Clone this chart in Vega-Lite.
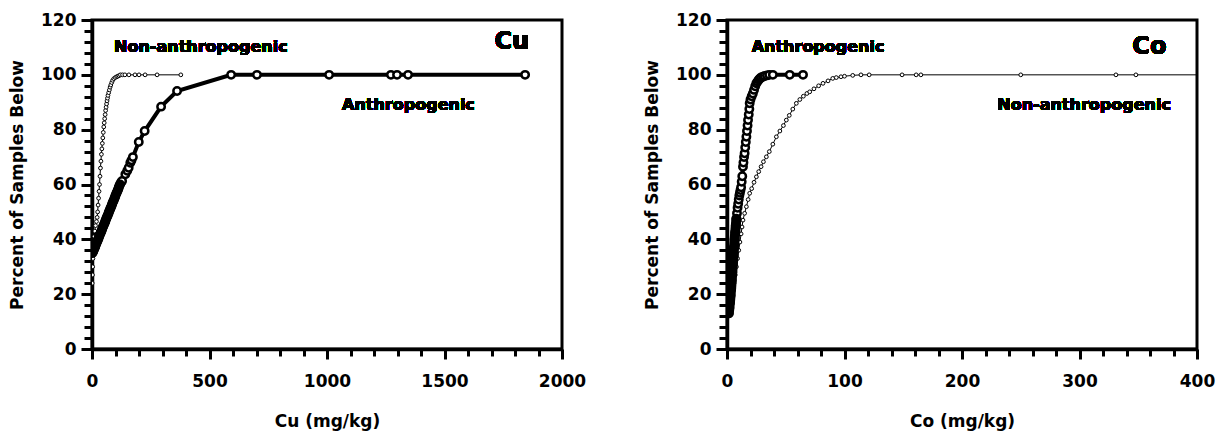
{
  "$schema": "https://vega.github.io/schema/vega-lite/v6.json",
  "padding": {"left": 7, "top": 9, "right": 5, "bottom": 2},
  "spacing": 54,
  "config": {
    "view": {"stroke": "black", "strokeWidth": 3},
    "font": "DejaVu Sans",
    "axis": {
      "grid": false,
      "domainColor": "black",
      "domainWidth": 3.5,
      "tickColor": "black",
      "tickWidth": 3,
      "labelFont": "DejaVu Sans",
      "labelFontWeight": "bold",
      "labelFontSize": 17,
      "labelColor": "black",
      "titleFont": "DejaVu Sans",
      "titleFontWeight": "bold",
      "titleFontSize": 17,
      "titleColor": "black"
    }
  },
  "datasets": {
    "cu": [
      {"g": "A", "x": 2, "pct": 35.0}, {"g": "A", "x": 5, "pct": 35.6}, {"g": "A", "x": 8, "pct": 36.2}, {"g": "A", "x": 11, "pct": 36.8},
      {"g": "A", "x": 14, "pct": 37.4}, {"g": "A", "x": 16, "pct": 38.0}, {"g": "A", "x": 19, "pct": 38.6}, {"g": "A", "x": 22, "pct": 39.2},
      {"g": "A", "x": 25, "pct": 39.8}, {"g": "A", "x": 28, "pct": 40.4}, {"g": "A", "x": 30, "pct": 41.0}, {"g": "A", "x": 33, "pct": 41.6},
      {"g": "A", "x": 36, "pct": 42.2}, {"g": "A", "x": 39, "pct": 42.8}, {"g": "A", "x": 42, "pct": 43.4}, {"g": "A", "x": 44, "pct": 44.0},
      {"g": "A", "x": 47, "pct": 44.6}, {"g": "A", "x": 50, "pct": 45.2}, {"g": "A", "x": 53, "pct": 45.8}, {"g": "A", "x": 56, "pct": 46.4},
      {"g": "A", "x": 58, "pct": 47.0}, {"g": "A", "x": 61, "pct": 47.6}, {"g": "A", "x": 64, "pct": 48.2}, {"g": "A", "x": 67, "pct": 48.8},
      {"g": "A", "x": 70, "pct": 49.4}, {"g": "A", "x": 72, "pct": 50.0}, {"g": "A", "x": 75, "pct": 50.6}, {"g": "A", "x": 78, "pct": 51.2},
      {"g": "A", "x": 81, "pct": 51.8}, {"g": "A", "x": 84, "pct": 52.4}, {"g": "A", "x": 86, "pct": 53.0}, {"g": "A", "x": 89, "pct": 53.6},
      {"g": "A", "x": 92, "pct": 54.2}, {"g": "A", "x": 95, "pct": 54.8}, {"g": "A", "x": 98, "pct": 55.4}, {"g": "A", "x": 100, "pct": 56.0},
      {"g": "A", "x": 103, "pct": 56.6}, {"g": "A", "x": 106, "pct": 57.2}, {"g": "A", "x": 109, "pct": 57.8}, {"g": "A", "x": 112, "pct": 58.4},
      {"g": "A", "x": 114, "pct": 59.0}, {"g": "A", "x": 117, "pct": 59.6}, {"g": "A", "x": 120, "pct": 60.2}, {"g": "A", "x": 124, "pct": 60.8},
      {"g": "A", "x": 128, "pct": 61.3}, {"g": "A", "x": 142, "pct": 63.7}, {"g": "A", "x": 150, "pct": 65.0}, {"g": "A", "x": 156, "pct": 66.1},
      {"g": "A", "x": 163, "pct": 67.9}, {"g": "A", "x": 168, "pct": 68.8}, {"g": "A", "x": 174, "pct": 70.0}, {"g": "A", "x": 199, "pct": 75.5},
      {"g": "A", "x": 224, "pct": 79.5}, {"g": "A", "x": 294, "pct": 88.4}, {"g": "A", "x": 362, "pct": 94.1}, {"g": "A", "x": 592, "pct": 100},
      {"g": "A", "x": 702, "pct": 100}, {"g": "A", "x": 1009, "pct": 100}, {"g": "A", "x": 1272, "pct": 100}, {"g": "A", "x": 1298, "pct": 100},
      {"g": "A", "x": 1345, "pct": 100}, {"g": "A", "x": 1843, "pct": 100},
      {"g": "N", "x": 1, "pct": 24}, {"g": "N", "x": 2, "pct": 27}, {"g": "N", "x": 3, "pct": 30}, {"g": "N", "x": 4, "pct": 33},
      {"g": "N", "x": 5, "pct": 36}, {"g": "N", "x": 7, "pct": 39}, {"g": "N", "x": 9, "pct": 41}, {"g": "N", "x": 12, "pct": 43},
      {"g": "N", "x": 15, "pct": 45}, {"g": "N", "x": 19, "pct": 46.5}, {"g": "N", "x": 22, "pct": 48}, {"g": "N", "x": 24, "pct": 50},
      {"g": "N", "x": 26, "pct": 52.5}, {"g": "N", "x": 28, "pct": 55}, {"g": "N", "x": 30, "pct": 57.5}, {"g": "N", "x": 32, "pct": 60},
      {"g": "N", "x": 34, "pct": 63}, {"g": "N", "x": 36, "pct": 66}, {"g": "N", "x": 38, "pct": 68.5}, {"g": "N", "x": 40, "pct": 71},
      {"g": "N", "x": 42, "pct": 73}, {"g": "N", "x": 44, "pct": 75}, {"g": "N", "x": 46, "pct": 77}, {"g": "N", "x": 48, "pct": 79},
      {"g": "N", "x": 50, "pct": 81}, {"g": "N", "x": 52, "pct": 82.5}, {"g": "N", "x": 54, "pct": 84}, {"g": "N", "x": 56, "pct": 85.5},
      {"g": "N", "x": 58, "pct": 87}, {"g": "N", "x": 60, "pct": 88.2}, {"g": "N", "x": 62, "pct": 89.4}, {"g": "N", "x": 64, "pct": 90.5},
      {"g": "N", "x": 66, "pct": 91.5}, {"g": "N", "x": 68, "pct": 92.5}, {"g": "N", "x": 71, "pct": 93.5}, {"g": "N", "x": 74, "pct": 94.5},
      {"g": "N", "x": 77, "pct": 95.5}, {"g": "N", "x": 80, "pct": 96.3}, {"g": "N", "x": 84, "pct": 97.2}, {"g": "N", "x": 88, "pct": 98},
      {"g": "N", "x": 93, "pct": 98.6}, {"g": "N", "x": 99, "pct": 99}, {"g": "N", "x": 105, "pct": 99.3}, {"g": "N", "x": 110, "pct": 99.5},
      {"g": "N", "x": 115, "pct": 99.7}, {"g": "N", "x": 121, "pct": 100}, {"g": "N", "x": 130, "pct": 100}, {"g": "N", "x": 140, "pct": 100},
      {"g": "N", "x": 157, "pct": 100}, {"g": "N", "x": 183, "pct": 100}, {"g": "N", "x": 200, "pct": 100}, {"g": "N", "x": 226, "pct": 100},
      {"g": "N", "x": 277, "pct": 100}, {"g": "N", "x": 378, "pct": 100}
    ],
    "co": [
      {"g": "A", "x": 1.5, "pct": 13}, {"g": "A", "x": 2, "pct": 15}, {"g": "A", "x": 2.5, "pct": 17}, {"g": "A", "x": 3, "pct": 19.5},
      {"g": "A", "x": 3.5, "pct": 22}, {"g": "A", "x": 4, "pct": 25}, {"g": "A", "x": 4.5, "pct": 28}, {"g": "A", "x": 5, "pct": 31},
      {"g": "A", "x": 5.5, "pct": 34}, {"g": "A", "x": 6, "pct": 37}, {"g": "A", "x": 6.5, "pct": 40}, {"g": "A", "x": 7, "pct": 42.5},
      {"g": "A", "x": 7.5, "pct": 45}, {"g": "A", "x": 8, "pct": 47.5}, {"g": "A", "x": 8.5, "pct": 49.5}, {"g": "A", "x": 9, "pct": 51.5},
      {"g": "A", "x": 9.5, "pct": 53}, {"g": "A", "x": 10, "pct": 54.5}, {"g": "A", "x": 10.5, "pct": 56}, {"g": "A", "x": 11, "pct": 57},
      {"g": "A", "x": 11.5, "pct": 58}, {"g": "A", "x": 12, "pct": 59}, {"g": "A", "x": 12.5, "pct": 61}, {"g": "A", "x": 13, "pct": 63},
      {"g": "A", "x": 13.6, "pct": 66.5}, {"g": "A", "x": 14, "pct": 68}, {"g": "A", "x": 14.5, "pct": 70}, {"g": "A", "x": 15, "pct": 71.4},
      {"g": "A", "x": 15.5, "pct": 73.5}, {"g": "A", "x": 16, "pct": 75.5}, {"g": "A", "x": 16.5, "pct": 77.4}, {"g": "A", "x": 17, "pct": 79.5},
      {"g": "A", "x": 17.5, "pct": 81.5}, {"g": "A", "x": 17.9, "pct": 83.5}, {"g": "A", "x": 18.5, "pct": 85.5}, {"g": "A", "x": 19, "pct": 87.5},
      {"g": "A", "x": 19.3, "pct": 89.6}, {"g": "A", "x": 20, "pct": 91}, {"g": "A", "x": 21, "pct": 92.2}, {"g": "A", "x": 22, "pct": 93.2},
      {"g": "A", "x": 23, "pct": 94.5}, {"g": "A", "x": 24, "pct": 95.8}, {"g": "A", "x": 25, "pct": 96.9}, {"g": "A", "x": 26, "pct": 97.6},
      {"g": "A", "x": 27, "pct": 98.2}, {"g": "A", "x": 28, "pct": 98.7}, {"g": "A", "x": 29, "pct": 99}, {"g": "A", "x": 30.6, "pct": 99.3},
      {"g": "A", "x": 32, "pct": 99.6}, {"g": "A", "x": 34, "pct": 99.8}, {"g": "A", "x": 36, "pct": 100}, {"g": "A", "x": 39, "pct": 100},
      {"g": "A", "x": 53.4, "pct": 100}, {"g": "A", "x": 64.7, "pct": 100},
      {"g": "N", "x": 2, "pct": 13}, {"g": "N", "x": 3, "pct": 15.5}, {"g": "N", "x": 4, "pct": 18}, {"g": "N", "x": 5, "pct": 21},
      {"g": "N", "x": 6, "pct": 24}, {"g": "N", "x": 7, "pct": 27}, {"g": "N", "x": 8, "pct": 30}, {"g": "N", "x": 9, "pct": 33},
      {"g": "N", "x": 10, "pct": 36}, {"g": "N", "x": 11, "pct": 39}, {"g": "N", "x": 12, "pct": 42}, {"g": "N", "x": 12.8, "pct": 44.5},
      {"g": "N", "x": 13.6, "pct": 47}, {"g": "N", "x": 15, "pct": 49.5}, {"g": "N", "x": 16.5, "pct": 51.9}, {"g": "N", "x": 18, "pct": 54.5},
      {"g": "N", "x": 19.3, "pct": 56.8}, {"g": "N", "x": 21, "pct": 58.5}, {"g": "N", "x": 23, "pct": 60.8}, {"g": "N", "x": 25, "pct": 62.8},
      {"g": "N", "x": 27, "pct": 64.7}, {"g": "N", "x": 29, "pct": 66.5}, {"g": "N", "x": 31, "pct": 68.3}, {"g": "N", "x": 33.5, "pct": 70.1},
      {"g": "N", "x": 36, "pct": 72}, {"g": "N", "x": 39, "pct": 74.7}, {"g": "N", "x": 42, "pct": 77.4}, {"g": "N", "x": 45, "pct": 79.5},
      {"g": "N", "x": 48, "pct": 81.5}, {"g": "N", "x": 50.5, "pct": 83.5}, {"g": "N", "x": 53, "pct": 85.2}, {"g": "N", "x": 56, "pct": 87.5},
      {"g": "N", "x": 59, "pct": 89.6}, {"g": "N", "x": 62, "pct": 91}, {"g": "N", "x": 65, "pct": 92.2}, {"g": "N", "x": 68, "pct": 93.2},
      {"g": "N", "x": 70.4, "pct": 93.8}, {"g": "N", "x": 74, "pct": 94.9}, {"g": "N", "x": 78, "pct": 96}, {"g": "N", "x": 81.7, "pct": 96.9},
      {"g": "N", "x": 86, "pct": 97.8}, {"g": "N", "x": 90, "pct": 98.7}, {"g": "N", "x": 93, "pct": 99}, {"g": "N", "x": 97, "pct": 99.3},
      {"g": "N", "x": 100, "pct": 99.5}, {"g": "N", "x": 107, "pct": 99.8}, {"g": "N", "x": 114, "pct": 100}, {"g": "N", "x": 121, "pct": 100},
      {"g": "N", "x": 149, "pct": 100}, {"g": "N", "x": 161, "pct": 100}, {"g": "N", "x": 165, "pct": 100}, {"g": "N", "x": 250, "pct": 100},
      {"g": "N", "x": 331, "pct": 100}, {"g": "N", "x": 348, "pct": 100}, {"g": "N", "x": 420, "pct": 100}
    ]
  },
  "hconcat": [
    {
      "width": 470,
      "height": 329,
      "data": {"name": "cu"},
      "encoding": {
        "x": {"field": "x", "type": "quantitative", "scale": {"domain": [0, 2000], "nice": false},
          "axis": {"title": "Cu (mg/kg)", "values": [0,100,200,300,400,500,600,700,800,900,1000,1100,1200,1300,1400,1500,1600,1700,1800,1900,2000],
            "labelExpr": "datum.value % 500 === 0 ? datum.label : ''", "format": "d",
            "tickSize": {"condition": {"test": "datum.value % 500 === 0", "value": 10}, "value": 7},
            "labelPadding": 14, "titlePadding": 24, "labelFlush": false}},
        "y": {"field": "pct", "type": "quantitative", "scale": {"domain": [0, 120], "nice": false},
          "axis": {"title": "Percent of Samples Below", "values": [0,4,8,12,16,20,24,28,32,36,40,44,48,52,56,60,64,68,72,76,80,84,88,92,96,100,104,108,112,116,120],
            "labelExpr": "datum.value % 20 === 0 ? datum.label : ''",
            "tickSize": {"condition": {"test": "datum.value % 20 === 0", "value": 11}, "value": 8},
            "labelPadding": 5, "titlePadding": 14}}
      },
      "layer": [
        {"transform": [{"filter": "datum.g === 'N'"}], "mark": {"type": "line", "color": "black", "strokeWidth": 1, "clip": true}},
        {"transform": [{"filter": "datum.g === 'N'"}], "mark": {"type": "point", "shape": "circle", "filled": true, "fill": "white", "stroke": "black", "strokeWidth": 1, "size": 14, "opacity": 1, "clip": true}},
        {"transform": [{"filter": "datum.g === 'A'"}], "mark": {"type": "line", "color": "black", "strokeWidth": 4, "clip": true}},
        {"transform": [{"filter": "datum.g === 'A'"}], "mark": {"type": "point", "shape": "circle", "filled": true, "fill": "white", "stroke": "black", "strokeWidth": 2.5, "size": 55, "opacity": 1, "clip": true}},
        {"transform": [{"filter": "datum.g === 'A' && datum.pct <= 60.2"}], "mark": {"type": "line", "color": "black", "strokeWidth": 9, "strokeCap": "round", "clip": true}},
        {"mark": {"type": "text", "text": "Non-anthropogenic", "align": "left", "baseline": "middle", "font": "DejaVu Sans", "fontWeight": "bold", "fontSize": 16, "color": "black"},
          "encoding": {"x": {"datum": 94}, "y": {"datum": 110}}},
        {"mark": {"type": "text", "text": "Anthropogenic", "align": "left", "baseline": "middle", "font": "DejaVu Sans", "fontWeight": "bold", "fontSize": 16, "color": "black"},
          "encoding": {"x": {"datum": 1064}, "y": {"datum": 89}}},
        {"mark": {"type": "text", "text": "Cu", "align": "right", "baseline": "middle", "font": "DejaVu Sans", "fontWeight": "bold", "fontSize": 24, "color": "black"},
          "encoding": {"x": {"datum": 1860}, "y": {"datum": 112}}}
      ]
    },
    {
      "width": 470,
      "height": 329,
      "data": {"name": "co"},
      "encoding": {
        "x": {"field": "x", "type": "quantitative", "scale": {"domain": [0, 400], "nice": false},
          "axis": {"title": "Co (mg/kg)", "values": [0,20,40,60,80,100,120,140,160,180,200,220,240,260,280,300,320,340,360,380,400],
            "labelExpr": "datum.value % 100 === 0 ? datum.label : ''",
            "tickSize": {"condition": {"test": "datum.value % 100 === 0", "value": 10}, "value": 7},
            "labelPadding": 14, "titlePadding": 24, "labelFlush": false}},
        "y": {"field": "pct", "type": "quantitative", "scale": {"domain": [0, 120], "nice": false},
          "axis": {"title": "Percent of Samples Below", "values": [0,4,8,12,16,20,24,28,32,36,40,44,48,52,56,60,64,68,72,76,80,84,88,92,96,100,104,108,112,116,120],
            "labelExpr": "datum.value % 20 === 0 ? datum.label : ''",
            "tickSize": {"condition": {"test": "datum.value % 20 === 0", "value": 11}, "value": 8},
            "labelPadding": 5, "titlePadding": 14}}
      },
      "layer": [
        {"transform": [{"filter": "datum.g === 'N'"}], "mark": {"type": "line", "color": "black", "strokeWidth": 1, "clip": true}},
        {"transform": [{"filter": "datum.g === 'N'"}], "mark": {"type": "point", "shape": "circle", "filled": true, "fill": "white", "stroke": "black", "strokeWidth": 1, "size": 14, "opacity": 1, "clip": true}},
        {"transform": [{"filter": "datum.g === 'A'"}], "mark": {"type": "line", "color": "black", "strokeWidth": 4, "clip": true}},
        {"transform": [{"filter": "datum.g === 'A'"}], "mark": {"type": "point", "shape": "circle", "filled": true, "fill": "white", "stroke": "black", "strokeWidth": 2.5, "size": 55, "opacity": 1, "clip": true}},
        {"transform": [{"filter": "datum.g === 'A' && datum.pct <= 47.5"}], "mark": {"type": "line", "color": "black", "strokeWidth": 10, "strokeCap": "round", "clip": true}},
        {"mark": {"type": "text", "text": "Anthropogenic", "align": "left", "baseline": "middle", "font": "DejaVu Sans", "fontWeight": "bold", "fontSize": 16, "color": "black"},
          "encoding": {"x": {"datum": 21}, "y": {"datum": 110}}},
        {"mark": {"type": "text", "text": "Non-anthropogenic", "align": "left", "baseline": "middle", "font": "DejaVu Sans", "fontWeight": "bold", "fontSize": 16, "color": "black"},
          "encoding": {"x": {"datum": 230}, "y": {"datum": 89}}},
        {"mark": {"type": "text", "text": "Co", "align": "right", "baseline": "middle", "font": "DejaVu Sans", "fontWeight": "bold", "fontSize": 24, "color": "black"},
          "encoding": {"x": {"datum": 374}, "y": {"datum": 110}}}
      ]
    }
  ]
}
